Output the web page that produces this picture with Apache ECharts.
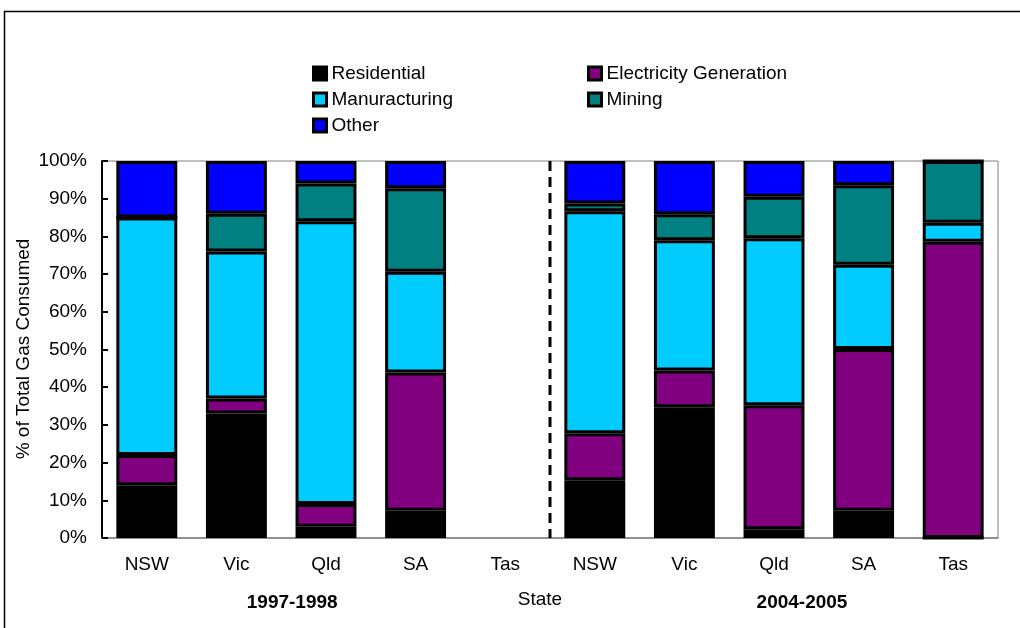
<!DOCTYPE html>
<html>
<head>
<meta charset="utf-8">
<script src="https://cdn.jsdelivr.net/npm/echarts@6/dist/echarts.min.js"></script>
<style>
html,body{margin:0;padding:0;background:#fff;}
#chart{width:1020px;height:628px;}
</style>
</head>
<body>
<div id="chart"></div>
<script>
// ---- data ----
var categories = ['NSW','Vic','Qld','SA','Tas','NSW','Vic','Qld','SA','Tas'];
var periodLabels = ['1997-1998','2004-2005'];
var axisTitleX = 'State';
var axisTitleY = '% of Total Gas Consumed';
var residential   = [14,   33,   3,   7.2,  null, 15.3, 34.7, 2.3,  7.2,  0];
var electricity   = [8,    4,    6,   36.7, null, 12.5, 9.7,  32.9, 42.9, 78.6];
var manufacturing = [63,   39,   75,  26.7, null, 58.9, 34.6, 44.3, 22.4, 5];
var mining        = [0,    10,   10,  22.2, null, 2,    6.9,  11,   21.1, 16.4];
var other         = [15,   14,   6,   7.2,  null, 11.3, 14.1, 9.5,  6.4,  0];
var seriesNames = ['Residential','Electricity Generation','Manuracturing','Mining','Other'];
var yTicks = [0,10,20,30,40,50,60,70,80,90,100];

var colors = ['#000000','#800080','#00CCFF','#008080','#0000FF'];
var FONT = 'Arial, "Liberation Sans", sans-serif';
var FS = 19;

var chart = echarts.init(document.getElementById('chart'), null, {renderer:'canvas'});

var dataSets = [residential, electricity, manufacturing, mining, other];
var series = dataSets.map(function(d, i){
  return {
    name: seriesNames[i],
    type: 'bar',
    stack: 'total',
    barWidth: '68%',
    data: d,
    itemStyle: {color: colors[i], borderColor: '#000', borderWidth: 3},
    emphasis: {disabled: true},
    animation: false
  };
});

function legendAt(name, left, top){
  return {
    data: [name],
    left: left, top: top,
    padding: 0,
    itemWidth: 13, itemHeight: 13,
    itemGap: 0,
    icon: 'rect',
    itemStyle: {borderColor: '#000', borderWidth: 3},
    textStyle: {fontFamily: FONT, fontSize: FS, color: '#000'},
    selectedMode: false
  };
}

var option = {
  animation: false,
  backgroundColor: '#fff',
  textStyle: {fontFamily: FONT},
  legend: [
    legendAt(seriesNames[0], 312, 64),
    legendAt(seriesNames[2], 312, 90),
    legendAt(seriesNames[4], 312, 116),
    legendAt(seriesNames[1], 587, 64),
    legendAt(seriesNames[3], 587, 90)
  ],
  grid: {left: 102, top: 161, right: 22, bottom: 90, show: true, borderColor: '#808080', borderWidth: 1, containLabel: false},
  xAxis: {
    type: 'category',
    data: categories,
    axisLine: {lineStyle: {color: '#808080', width: 1.5}},
    axisTick: {inside: true, length: 5, lineStyle: {color: '#000', width: 1.5}},
    axisLabel: {fontFamily: FONT, fontSize: FS, color: '#000', margin: 17},
    splitLine: {show: false}
  },
  yAxis: {
    type: 'value',
    min: yTicks[0], max: yTicks[yTicks.length-1], interval: 10,
    axisLine: {show: true, lineStyle: {color: '#000', width: 2}},
    axisTick: {show: true, inside: true, length: 6, lineStyle: {color: '#000', width: 2}},
    axisLabel: {fontFamily: FONT, fontSize: FS, color: '#000', margin: 15, formatter: '{value}%'},
    splitLine: {show: false}
  },
  series: series
};
chart.setOption(option);

// positions computed through the library's scales
function px(i, v){ return chart.convertToPixel({xAxisIndex:0, yAxisIndex:0}, [i, v]); }
var p4 = px(4, 0), p5 = px(5, 100), p1 = px(1, 0), p2 = px(2, 0), p7 = px(7, 0);
var divX = (p4[0] + p5[0]) / 2;
var yBottom = p4[1], yTop = p5[1];

chart.setOption({
  graphic: [
    {id:'frame', type:'rect', shape:{x:4.5, y:11.5, width:1030, height:640}, style:{fill:'none', stroke:'#000', lineWidth:1.5}, silent:true, z:-1},
    {id:'divider', type:'line', shape:{x1:divX, y1:yTop, x2:divX, y2:yBottom}, style:{stroke:'#000', lineWidth:3, lineDash:[10,6]}, z:100, silent:true},
    {id:'p1', type:'text', x:(p1[0]+p2[0])/2 + 11, y:603, style:{text:periodLabels[0], font:'bold '+FS+'px '+FONT, fill:'#000', align:'center', verticalAlign:'middle'}},
    {id:'p2', type:'text', x:p7[0] + 28, y:603, style:{text:periodLabels[1], font:'bold '+FS+'px '+FONT, fill:'#000', align:'center', verticalAlign:'middle'}},
    {id:'xname', type:'text', x:divX - 10, y:600, style:{text:axisTitleX, font:FS+'px '+FONT, fill:'#000', align:'center', verticalAlign:'middle'}},
    {id:'yname', type:'text', x:24, y:349, rotation:Math.PI/2, style:{text:axisTitleY, font:FS+'px '+FONT, fill:'#000', align:'center', verticalAlign:'middle'}}
  ]
});
</script>
</body>
</html>
